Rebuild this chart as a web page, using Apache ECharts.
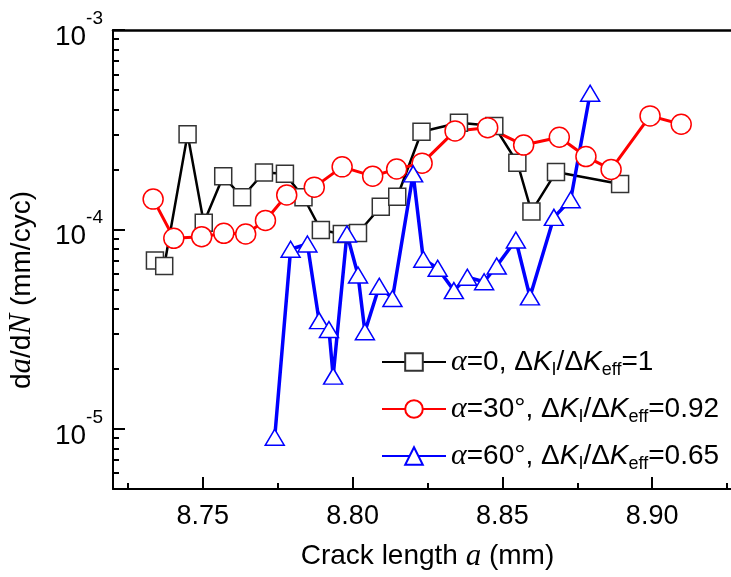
<!DOCTYPE html>
<html><head><meta charset="utf-8">
<script src="https://cdn.jsdelivr.net/npm/echarts@6/dist/echarts.min.js"></script>
<style>html,body{margin:0;padding:0;background:#fff}#c{width:731px;height:577px}</style>
</head><body><div id="c"></div>
<script>
// ---- data ----
const seriesNames = ['a0', 'a30', 'a60'];
const legendLabels = [
  '{a|α}=0, Δ{k|K}{s|I}/Δ{k|K}{s|eff}=1',
  '{a|α}=30°, Δ{k|K}{s|I}/Δ{k|K}{s|eff}=0.92',
  '{a|α}=60°, Δ{k|K}{s|I}/Δ{k|K}{s|eff}=0.65'
];
const yTitle = 'd{i|a}/d{i|N} (mm/cyc)';
const xTitle = 'Crack length {i|a} (mm)';
const xAlpha0 = [8.7340, 8.7371, 8.7449, 8.7503, 8.7568, 8.7631, 8.7704, 8.7774, 8.7836, 8.7894, 8.7964, 8.8018, 8.8094, 8.8149, 8.8230, 8.8355, 8.8473, 8.8550, 8.8597, 8.8679, 8.8893];
const yAlpha0 = [6.98e-5, 6.56e-5, 3.00e-4, 1.08e-4, 1.85e-4, 1.45e-4, 1.93e-4, 1.90e-4, 1.45e-4, 9.94e-5, 9.49e-5, 9.60e-5, 1.30e-4, 1.46e-4, 3.09e-4, 3.43e-4, 3.30e-4, 2.16e-4, 1.23e-4, 1.94e-4, 1.69e-4];
const xAlpha30 = [8.7334, 8.7403, 8.7496, 8.7570, 8.7643, 8.7709, 8.7780, 8.7872, 8.7965, 8.8067, 8.8147, 8.8232, 8.8342, 8.8451, 8.8571, 8.8690, 8.8779, 8.8863, 8.8993, 8.9097];
const yAlpha30 = [1.42e-4, 9.03e-5, 9.20e-5, 9.57e-5, 9.49e-5, 1.11e-4, 1.49e-4, 1.63e-4, 2.06e-4, 1.85e-4, 2.01e-4, 2.15e-4, 3.12e-4, 3.24e-4, 2.65e-4, 2.90e-4, 2.32e-4, 2.00e-4, 3.71e-4, 3.37e-4];
const xAlpha60 = [8.7740, 8.7793, 8.7849, 8.7888, 8.7921, 8.7935, 8.7981, 8.8018, 8.8041, 8.8089, 8.8133, 8.8202, 8.8236, 8.8284, 8.8338, 8.8383, 8.8439, 8.8481, 8.8545, 8.8592, 8.8672, 8.8728, 8.8793];
const yAlpha60 = [9.09e-6, 7.96e-5, 8.46e-5, 3.49e-5, 3.15e-5, 1.84e-5, 9.49e-5, 5.91e-5, 3.07e-5, 5.19e-5, 4.51e-5, 1.90e-4, 7.09e-5, 6.39e-5, 4.94e-5, 5.76e-5, 5.47e-5, 6.56e-5, 8.86e-5, 4.59e-5, 1.15e-4, 1.41e-4, 4.82e-4];
const xMajorTicks = [8.75, 8.80, 8.85, 8.90];
const xMinorTicks = [8.725, 8.775, 8.825, 8.875, 8.925];
const yMajorTicks = [1e-5, 1e-4, 1e-3];
const yMinorTicks = [6e-6, 7e-6, 8e-6, 9e-6, 2e-5, 3e-5, 4e-5, 5e-5, 6e-5, 7e-5, 8e-5, 9e-5, 2e-4, 3e-4, 4e-4, 5e-4, 6e-4, 7e-4, 8e-4, 9e-4];
const xMin = 8.72, xMax = 8.93, yMin = 5e-6, yMax = 1e-3;

const pairs = (xs, ys) => xs.map((x, i) => [x, ys[i]]);
const SANS = 'Liberation Sans, Arial, sans-serif';
const SERIF = 'Liberation Serif, Times New Roman, serif';

const chart = echarts.init(document.getElementById('c'), null, {renderer: 'canvas'});
const axisLineStyle = {color: '#000', width: 2};
chart.setOption({
  animation: false,
  backgroundColor: '#fff',
  grid: {left: 113, right: -11, top: 30, bottom: 88, containLabel: false, outerBoundsMode: 'none'},
  graphic: [
    {type: 'text', x: 22, y: 290, rotation: Math.PI / 2, silent: true,
     style: {text: yTitle, align: 'center', verticalAlign: 'middle', fill: '#000',
       font: '28px ' + SANS,
       rich: {i: {fontFamily: SERIF, fontStyle: 'italic', fontSize: 31, fill: '#000'}}}}
  ],
  xAxis: [
    {type: 'value', min: xMin, max: xMax, position: 'bottom',
     axisLine: {show: true, onZero: false, lineStyle: axisLineStyle},
     axisTick: {show: true, inside: true, length: 12, customValues: xMajorTicks, lineStyle: {color: '#000', width: 2}},
     axisLabel: {show: true, customValues: xMajorTicks, formatter: v => Number(v).toFixed(2), fontSize: 27, fontFamily: SANS, color: '#000', margin: 14},
     splitLine: {show: false},
     name: xTitle, nameLocation: 'middle', nameGap: 52,
     nameTextStyle: {fontSize: 28, fontFamily: SANS, color: '#000', rich: {i: {fontFamily: SERIF, fontStyle: 'italic', fontSize: 31, color: '#000'}}}
    },
    {type: 'value', min: xMin, max: xMax, position: 'bottom',
     axisLine: {show: false, onZero: false},
     axisTick: {show: true, inside: true, length: 6, customValues: xMinorTicks, lineStyle: {color: '#000', width: 2}},
     axisLabel: {show: false}, splitLine: {show: false}},
    {type: 'value', min: xMin, max: xMax, position: 'top',
     axisLine: {show: true, onZero: false, lineStyle: {color: '#000', width: 2.5}},
     axisTick: {show: false}, axisLabel: {show: false}, splitLine: {show: false}}
  ],
  yAxis: [
    {type: 'log', logBase: 10, min: yMin, max: yMax, position: 'left',
     axisLine: {show: true, onZero: false, lineStyle: axisLineStyle},
     axisTick: {show: true, inside: true, length: 12, customValues: yMajorTicks, lineStyle: {color: '#000', width: 2}},
     axisLabel: {show: true, customValues: yMajorTicks, margin: 10,
       formatter: v => '{b|10}{s|' + Math.round(Math.log10(v)) + '}',
       rich: {b: {fontSize: 28, fontFamily: SANS, color: '#000', lineHeight: 42, verticalAlign: 'bottom'},
              s: {fontSize: 19, fontFamily: SANS, color: '#000', lineHeight: 19, verticalAlign: 'top'}}},
     splitLine: {show: false}
    },
    {type: 'log', logBase: 10, min: yMin, max: yMax, position: 'left',
     axisLine: {show: false, onZero: false},
     axisTick: {show: true, inside: true, length: 6, customValues: yMinorTicks, lineStyle: {color: '#000', width: 2}},
     axisLabel: {show: false}, splitLine: {show: false}}
  ],
  legend: {
    show: true, orient: 'vertical', left: 376, top: 340,
    itemWidth: 64, itemHeight: 22, itemGap: 13,
    data: seriesNames,
    formatter: name => legendLabels[seriesNames.indexOf(name)],
    textStyle: {fontSize: 28, fontFamily: SANS, color: '#000', lineHeight: 34,
      rich: {a: {fontFamily: SERIF, fontStyle: 'italic', fontSize: 30, color: '#000'},
             k: {fontFamily: SANS, fontStyle: 'italic', fontSize: 28, color: '#000'},
             s: {fontFamily: SANS, fontSize: 18, color: '#000', lineHeight: 18, verticalAlign: 'bottom'}}}
  },
  series: [
    {name: seriesNames[0], type: 'line', xAxisIndex: 0, yAxisIndex: 0, data: pairs(xAlpha0, yAlpha0),
     symbol: 'rect', symbolSize: 17, showAllSymbol: true,
     itemStyle: {color: '#fff', borderColor: '#333', borderWidth: 1.5},
     lineStyle: {color: '#000', width: 2.5}},
    {name: seriesNames[1], type: 'line', xAxisIndex: 0, yAxisIndex: 0, data: pairs(xAlpha30, yAlpha30),
     symbol: 'circle', symbolSize: 20, showAllSymbol: true,
     itemStyle: {color: '#fff', borderColor: '#ff0000', borderWidth: 1.5},
     lineStyle: {color: '#ff0000', width: 3}},
    {name: seriesNames[2], type: 'line', xAxisIndex: 0, yAxisIndex: 0, data: pairs(xAlpha60, yAlpha60),
     symbol: 'triangle', symbolSize: [19, 16], showAllSymbol: true,
     itemStyle: {color: '#fff', borderColor: '#0000ff', borderWidth: 1.5},
     lineStyle: {color: '#0000ff', width: 3.5}}
  ]
});
</script></body></html>
